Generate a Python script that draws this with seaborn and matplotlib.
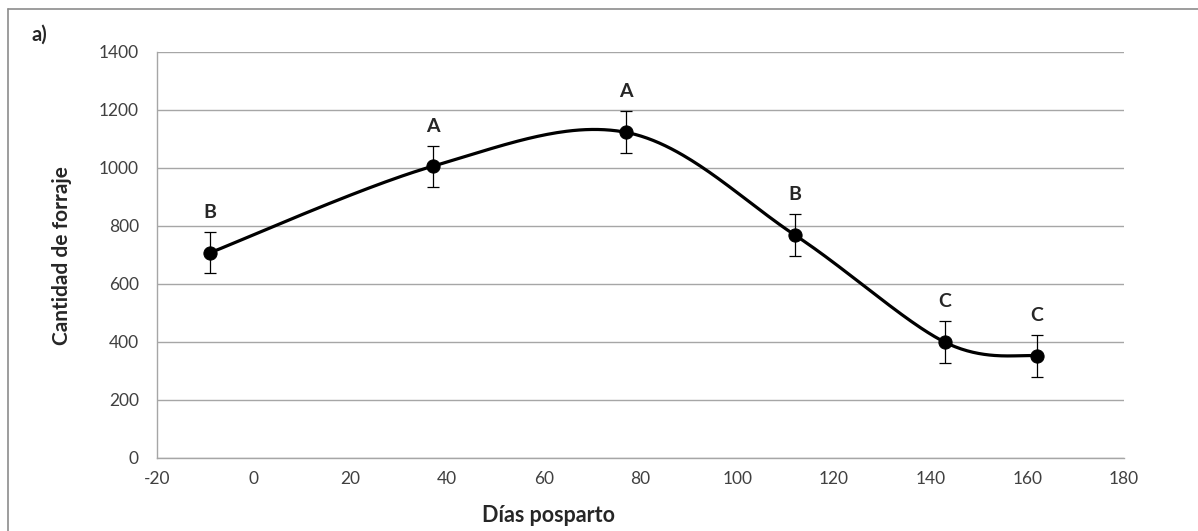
import numpy as np
import pandas as pd
import matplotlib
matplotlib.use("Agg")
import matplotlib.pyplot as plt
from matplotlib.lines import Line2D
import seaborn as sns

# ── Data ──────────────────────────────────────────────────────────────────────

dias      = [-9, 37, 77, 112, 143, 162]
forraje   = [708, 1006, 1123, 768, 399, 352]
error     = [71, 71, 72, 72, 72, 72]
letras    = ["B", "A", "A", "B", "C", "C"]

GRID = "#a6a6a6"


def catmull_rom(xs, ys, n=60):
    """Excel-style smoothed line (uniform Catmull-Rom through the points)."""
    p = np.column_stack([xs, ys]).astype(float)
    p = np.vstack([p[0], p, p[-1]])
    out = []
    t = np.linspace(0, 1, n)[:, None]
    for i in range(1, len(p) - 2):
        p0, p1, p2, p3 = p[i - 1], p[i], p[i + 1], p[i + 2]
        c1 = p1 + (p2 - p0) / 6
        c2 = p2 - (p3 - p1) / 6
        seg = ((1 - t) ** 3) * p1 + 3 * ((1 - t) ** 2) * t * c1 \
            + 3 * (1 - t) * t ** 2 * c2 + t ** 3 * p2
        out.append(seg if i == 1 else seg[1:])
    return np.vstack(out)


sns.set_style("white")
plt.rcParams["font.family"] = ["Lato", "DejaVu Sans"]
plt.rcParams["axes.unicode_minus"] = False

df = pd.DataFrame({"dias": dias, "forraje": forraje, "error": error})
curve = catmull_rom(dias, forraje)
df_curve = pd.DataFrame({"x": curve[:, 0], "y": curve[:, 1]})

fig = plt.figure(figsize=(11.98, 5.31), dpi=100)
ax = fig.add_axes([157 / 1198, 1 - 458 / 531, (1124 - 157) / 1198, (458 - 52) / 531])

sns.lineplot(data=df_curve, x="x", y="y", ax=ax, color="black", lw=2.3,
             sort=False, estimator=None)
ax.errorbar(df["dias"], df["forraje"], yerr=df["error"], fmt="none",
            ecolor="black", elinewidth=0.9, capsize=4.5, capthick=0.9, zorder=3)
sns.scatterplot(data=df, x="dias", y="forraje", ax=ax, color="black",
                s=90, edgecolor="black", zorder=4)

for x, y, e, t in zip(dias, forraje, error, letras):
    ax.annotate(t, (x, y + e), xytext=(0, 8), textcoords="offset points",
                ha="center", va="bottom", fontsize=14, fontweight="bold")

ax.set_xlim(-20, 180)
ax.set_ylim(0, 1400)
ax.set_xticks(range(-20, 181, 20))
ax.set_yticks(range(0, 1401, 200))
ax.yaxis.grid(True, color=GRID, lw=1)
ax.set_axisbelow(True)

for side in ("top", "right"):
    ax.spines[side].set_visible(False)
for side in ("left", "bottom"):
    ax.spines[side].set_color(GRID)
    ax.spines[side].set_linewidth(1)

ax.tick_params(axis="both", which="major", direction="out", length=5,
               width=1, color=GRID, labelsize=12.5, labelcolor="#404040", pad=4)
ax.tick_params(axis="y", pad=8)

ax.set_xlabel("")
ax.set_ylabel("")
fig.text(548 / 1198, 1 - 516 / 531, "Días posparto", ha="center", va="center",
         fontsize=15.5, fontweight="bold")
fig.text(62 / 1198, 1 - 256 / 531, "Cantidad de forraje", ha="center",
         va="center", rotation=90, fontsize=15, fontweight="bold")
fig.text(39 / 1198, 1 - 35 / 531, "a)", ha="center", va="center",
         fontsize=14.5, fontweight="bold")

# outer chart border (top and left visible in the crop)
fig.add_artist(Line2D([8 / 1198, 8 / 1198], [0, 1 - 9 / 531],
                      transform=fig.transFigure, color="#8c8c8c", lw=1.2))
fig.add_artist(Line2D([8 / 1198, 1], [1 - 9 / 531, 1 - 9 / 531],
                      transform=fig.transFigure, color="#8c8c8c", lw=1.2))

fig.savefig("out.png", dpi=100)
